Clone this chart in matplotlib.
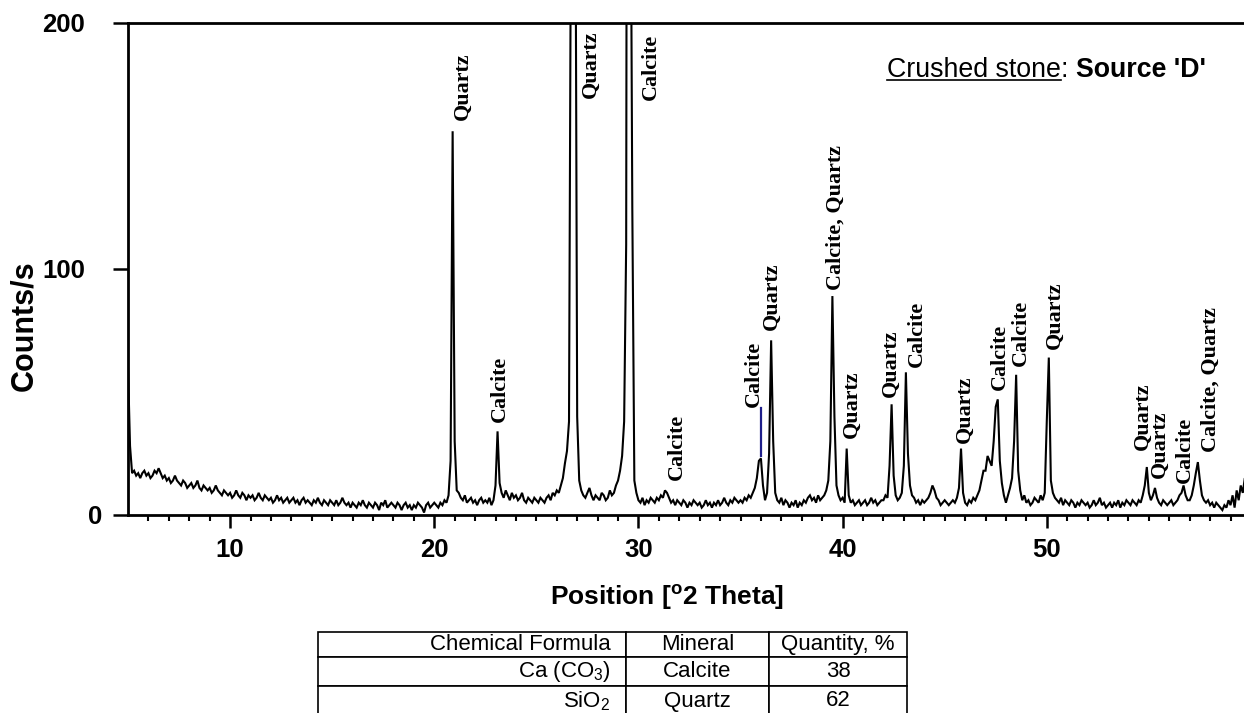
import numpy as np
import matplotlib
matplotlib.use("Agg")
import matplotlib.pyplot as plt
import matplotlib.transforms as mtransforms
from matplotlib.lines import Line2D

plt.rcParams['font.family'] = ['Liberation Sans', 'DejaVu Sans']
plt.rcParams['mathtext.fontset'] = 'custom'
plt.rcParams['mathtext.rm'] = 'Liberation Sans'
plt.rcParams['mathtext.it'] = 'Liberation Sans:italic'
plt.rcParams['mathtext.bf'] = 'Liberation Sans:bold'

# ---------------- data ----------------
scan_start = 5.0      # degrees 2-theta
scan_step = 0.1
counts = [
    60, 28, 17, 18, 16, 17, 15, 17, 18, 16,      # 5
    17, 15, 16, 18, 17, 19, 17, 15, 16, 14,      # 6
    15, 13, 14, 16, 14, 13, 12, 14, 13, 11,      # 7
    12, 13, 11, 12, 14, 11, 10, 12, 11, 10,      # 8
    11, 9, 10, 12, 10, 9, 8, 10, 9, 8,           # 9
    9, 7, 8, 10, 8, 7, 9, 8, 6, 8,               # 10
    7, 8, 6, 7, 9, 7, 6, 8, 7, 6,                # 11
    7, 5, 6, 8, 6, 7, 5, 6, 7, 5,                # 12
    6, 7, 5, 6, 4, 6, 7, 5, 6, 5,                # 13
    4, 6, 5, 7, 5, 4, 6, 5, 4, 6,                # 14
    5, 4, 6, 4, 5, 7, 5, 4, 5, 3,                # 15
    5, 4, 3, 5, 4, 6, 4, 3, 5, 4,                # 16
    3, 5, 4, 2, 5, 4, 6, 3, 4, 5,                # 17
    4, 3, 5, 4, 2, 4, 5, 3, 4, 2,                # 18
    4, 3, 5, 4, 3, 1, 4, 5, 3, 4,                # 19
    5, 4, 3, 5, 4, 6, 5, 8, 22, 156,             # 20
    30, 10, 9, 7, 6, 8, 5, 6, 7, 5,              # 21
    6, 4, 6, 7, 5, 6, 5, 7, 4, 6,                # 22
    12, 34, 13, 9, 7, 10, 8, 6, 9, 7,            # 23
    8, 6, 7, 9, 6, 5, 7, 6, 5, 7,                # 24
    6, 5, 7, 6, 5, 7, 8, 6, 9, 8,                # 25
    10, 9, 12, 15, 21, 26, 38, 260, 650, 300,    # 26
    40, 14, 10, 8, 7, 9, 11, 8, 6, 8,            # 27
    7, 6, 9, 8, 6, 7, 10, 8, 9, 12,              # 28
    14, 18, 24, 38, 110, 700, 300, 125, 14, 9,   # 29
    6, 5, 7, 4, 6, 5, 7, 6, 5, 7,                # 30
    6, 8, 7, 10, 9, 7, 5, 6, 4, 6,               # 31
    5, 4, 6, 5, 3, 5, 4, 6, 5, 4,                # 32
    5, 3, 4, 6, 4, 5, 3, 5, 4, 6,                # 33
    4, 5, 7, 5, 4, 6, 5, 7, 6, 5,                # 34
    6, 5, 7, 6, 8, 7, 9, 11, 15, 22,             # 35
    23, 12, 6, 9, 25, 71, 30, 9, 6, 5,           # 36
    7, 4, 6, 5, 3, 5, 4, 6, 3, 5,                # 37
    4, 6, 5, 7, 8, 6, 7, 5, 8, 6,                # 38
    7, 8, 10, 14, 30, 89, 40, 12, 8, 6,          # 39
    7, 5, 27, 8, 5, 6, 4, 5, 6, 4,               # 40
    5, 6, 4, 5, 7, 5, 6, 4, 5, 6,                # 41
    6, 8, 7, 20, 45, 16, 8, 6, 7, 9,             # 42
    20, 58, 25, 12, 8, 7, 5, 6, 4, 6,            # 43
    5, 6, 7, 9, 12, 10, 7, 6, 4, 5,              # 44
    6, 5, 4, 5, 6, 5, 7, 11, 27, 9,              # 45
    5, 4, 6, 5, 7, 6, 8, 10, 14, 18,             # 46
    18, 24, 22, 20, 30, 44, 47, 22, 13, 8,       # 47
    5, 8, 11, 15, 30, 57, 18, 10, 6, 8,          # 48
    5, 6, 4, 5, 7, 6, 5, 8, 6, 9,                # 49
    38, 64, 14, 9, 7, 6, 5, 7, 4, 6,             # 50
    5, 4, 6, 5, 3, 5, 4, 6, 5, 4,                # 51
    5, 3, 4, 6, 4, 5, 7, 4, 5, 3,                # 52
    4, 5, 3, 5, 4, 6, 3, 5, 4, 6,                # 53
    5, 4, 6, 5, 4, 6, 5, 8, 12, 19.5,            # 54
    9, 6, 8, 11, 7, 5, 4, 6, 5, 4,               # 55
    5, 6, 4, 5, 6, 8, 9, 12, 8, 6,               # 56
    6, 8, 12, 17, 21.5, 14, 8, 6, 5, 6,          # 57
    4, 5, 3, 5, 4, 3, 2, 4, 3, 6,                # 58
    4, 8, 3, 10, 6, 12, 9, 15, 13, 16,           # 59
]

peak_names = ["Quartz", "Calcite", "Quartz", "Calcite", "Calcite", "Calcite",
              "Quartz", "Calcite, Quartz", "Quartz", "Quartz", "Calcite",
              "Quartz", "Calcite", "Calcite", "Quartz", "Quartz", "Quartz",
              "Calcite", "Calcite, Quartz"]
label_x = [21.41, 23.22, 27.68, 30.62, 31.89, 35.66, 36.54, 39.68, 40.46,
           42.37, 43.64, 46.0, 47.71, 48.74, 50.4, 54.71, 55.54, 56.77, 58.04]
label_y = [160.6, 37.8, 169.5, 168.7, 14.2, 43.9, 75.2, 91.5, 31.3,
           48.0, 60.2, 29.3, 50.8, 60.6, 67.5, 26.4, 15.0, 13.0, 25.6]

marker_x = [36.0]
marker_y0 = [24.0]
marker_y1 = [43.5]

x_ticks = [10, 20, 30, 40, 50]
y_ticks = [0, 100, 200]

table_header = ["Chemical Formula", "Mineral", "Quantity, %"]
table_formula = ["Ca (CO$_3$)", "SiO$_2$"]
table_mineral = ["Calcite", "Quartz"]
table_quantity = ["38", "62"]

# ---------------- figure ----------------
W, H = 1244, 713
fig = plt.figure(figsize=(W / 100, H / 100), dpi=100)

ax = fig.add_axes([128 / W, (H - 515) / H, (W - 128) / W, (515 - 23) / H])
theta = scan_start + scan_step * np.arange(len(counts))
ax.plot(theta, counts, color='black', lw=1.5, solid_joinstyle='miter')
ax.set_xlim(5.0, 59.66)
ax.set_ylim(0, 200)

for s in ['left', 'bottom', 'top']:
    ax.spines[s].set_linewidth(2.0)
ax.spines['right'].set_visible(False)

ax.set_xticks(x_ticks)
ax.set_xticks([v for v in range(6, 60) if v % 10 != 0], minor=True)
ax.set_yticks(y_ticks)
ax.set_xticklabels([str(v) for v in x_ticks], fontsize=18.5, fontweight='bold')
ax.set_yticklabels([str(v) for v in y_ticks], fontsize=18.5, fontweight='bold')
ax.tick_params(axis='x', which='major', length=9.4, width=1.8, direction='out', pad=7)
ax.tick_params(axis='x', which='minor', length=4, width=1.5, direction='out')
ax.tick_params(axis='y', which='major', length=10.8, width=1.8, direction='out', pad=20)
ax.tick_params(top=False, right=False)

# shift the "0" label (it sits closer to the axis in the reference)
lbl0 = ax.get_yticklabels()[0]
lbl0.set_transform(lbl0.get_transform() +
                   mtransforms.ScaledTranslation(0.17, 0, fig.dpi_scale_trans))

# peak labels
for name, lx, ly in zip(peak_names, label_x, label_y):
    ax.text(lx, ly, name, rotation=90, ha='center', va='bottom',
            family='Liberation Serif', fontweight='bold', fontsize=15.8,
            color='black')

for mx, y0, y1 in zip(marker_x, marker_y0, marker_y1):
    ax.plot([mx, mx], [y0, y1], color='#1f1f8a', lw=1.6)

# axis labels
fig.text(24 / W, 1 - 326 / H, "Counts/s", rotation=90, ha='center', va='center',
         fontsize=22, fontweight='bold')
fig.text(667 / W, 1 - 597 / H, r"$\mathbf{Position\ [^{o}2\ Theta]}$",
         ha='center', va='center', fontsize=19)

# title-like annotation with underline
renderer = fig.canvas.get_renderer()
base_y = 1 - 77 / H
t1 = fig.text(887 / W, base_y, "Crushed stone", fontsize=19.3, va='baseline')
bb1 = t1.get_window_extent(renderer)
t2 = fig.text(bb1.x1 / W, base_y, ":", fontsize=19.3, va='baseline')
bb2 = t2.get_window_extent(renderer)
fig.text((bb2.x1 + 8) / W, base_y, "Source 'D'", fontsize=19.3, fontweight='bold',
         va='baseline')
fig.add_artist(Line2D([bb1.x0 / W, bb1.x1 / W], [1 - 80 / H, 1 - 80 / H],
                      color='black', lw=1.2, transform=fig.transFigure))

# table
tab_left, tab_right, tab_top, tab_bottom = 318, 907, 632, 716
tab_ax = fig.add_axes([tab_left / W, (H - tab_bottom) / H,
                       (tab_right - tab_left) / W, (tab_bottom - tab_top) / H])
tab_ax.axis('off')
cell_text = [table_header] + [list(r) for r in zip(table_formula, table_mineral, table_quantity)]
col_w = [308, 143, 138]
tbl = tab_ax.table(cellText=cell_text, colWidths=[c / sum(col_w) for c in col_w],
                   cellLoc='center', bbox=[0, 0, 1, 1])
tbl.auto_set_font_size(False)
tbl.set_fontsize(16)
row_h = [25, 29, 30]
for (r, c), cell in tbl.get_celld().items():
    cell.set_height(row_h[r])
    cell.set_linewidth(1.2)
    cell.set_edgecolor('black')
    if c == 0:
        cell.set_text_props(ha='right')
        cell._loc = 'right'
        cell.PAD = 0.05

fig.savefig("out.png", dpi=100)
